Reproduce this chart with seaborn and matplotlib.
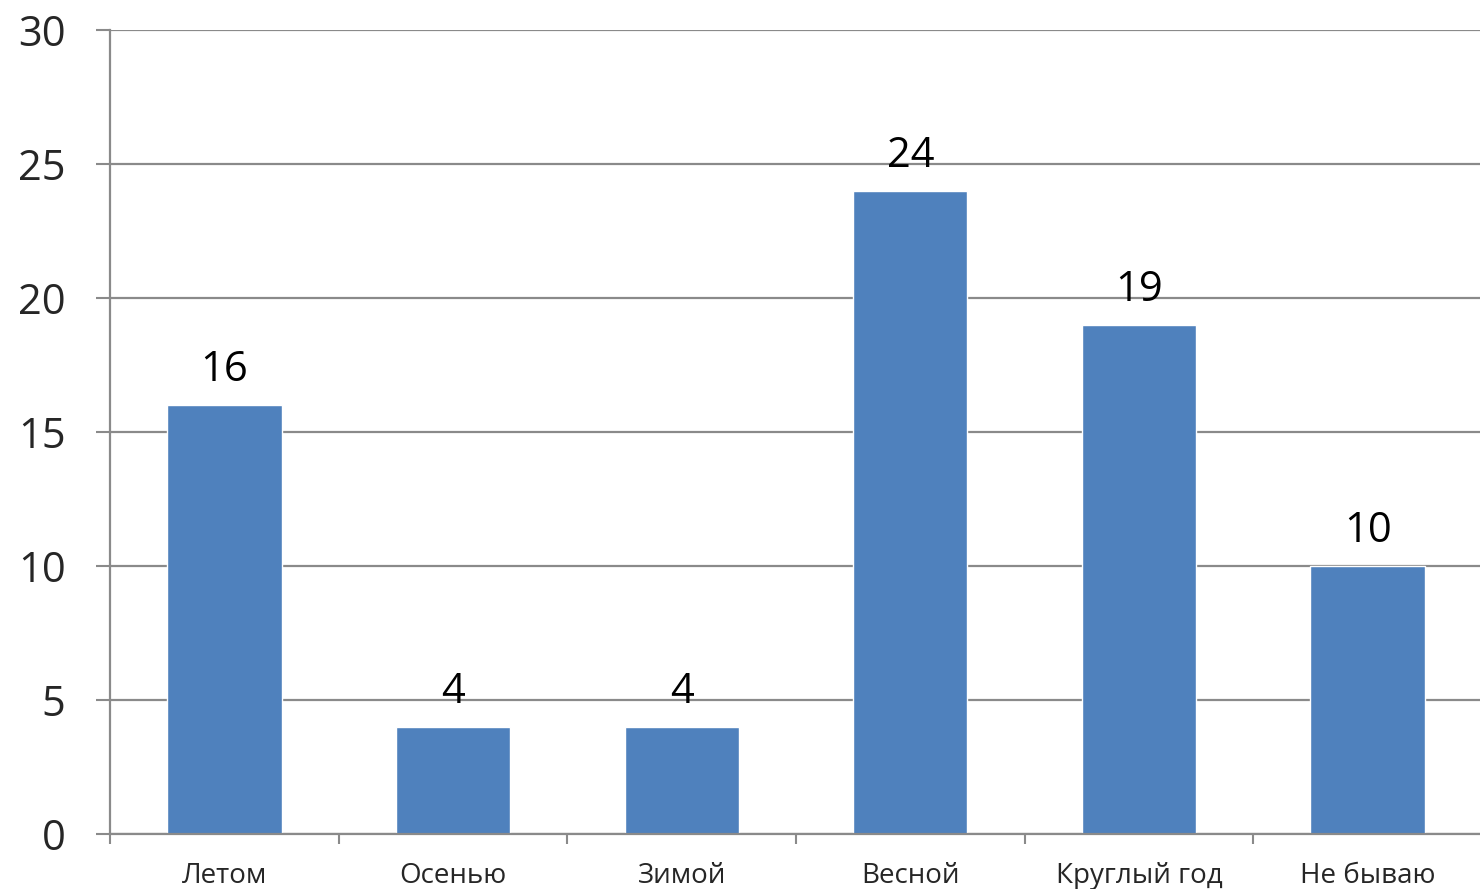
import numpy as np
import pandas as pd
import matplotlib
matplotlib.use("Agg")
import matplotlib.pyplot as plt
import seaborn as sns

# -----------------------------------------
# Data
# -----------------------------------------

categories = ["Летом", "Осенью", "Зимой", "Весной", "Круглый год", "Не бываю"]
values = [16, 4, 4, 24, 19, 10]
y_ticks = [0, 5, 10, 15, 20, 25, 30]

df = pd.DataFrame({"season": categories, "count": values})

# -----------------------------------------
# Style
# -----------------------------------------

sns.set_style("white")
plt.rcParams["font.family"] = ["Open Sans", "DejaVu Sans"]

bar_color = "#4F81BD"
line_color = "#8A8A8A"

fig = plt.figure(figsize=(14.8, 8.89), dpi=100)
ax = fig.add_axes([110 / 1480, 55 / 889, 1372 / 1480, 804 / 889])

sns.barplot(
    data=df,
    x="season",
    y="count",
    color=bar_color,
    width=0.5,
    saturation=1,
    ax=ax,
)

ax.bar_label(ax.containers[0], fontsize=30, padding=10, color="black")

# -----------------------------------------
# Axes
# -----------------------------------------

ax.set_ylim(0, 30)
ax.set_xlim(-0.5, len(categories) - 0.5)
ax.set_yticks(y_ticks)
ax.set_yticklabels([str(t) for t in y_ticks], fontsize=30)

# boundary ticks (major) and centered labels (minor)
ax.set_xticks(np.arange(-0.5, len(categories), 1.0))
ax.set_xticklabels([])
ax.set_xticks(np.arange(len(categories)), minor=True)
ax.set_xticklabels(categories, minor=True, fontsize=20)

ax.tick_params(axis="x", which="major", length=7, width=1.5, color=line_color, direction="out", bottom=True)
ax.tick_params(axis="x", which="minor", length=0, pad=20)
ax.tick_params(axis="y", length=10, width=1.5, color=line_color, direction="out", left=True, pad=22)

ax.grid(axis="y", color=line_color, linewidth=1.6)
ax.set_axisbelow(True)

for side in ["top", "right"]:
    ax.spines[side].set_visible(False)
for side in ["left", "bottom"]:
    ax.spines[side].set_color(line_color)
    ax.spines[side].set_linewidth(1.6)

ax.set_xlabel("")
ax.set_ylabel("")

fig.savefig("out.png", dpi=100)
plt.close(fig)
